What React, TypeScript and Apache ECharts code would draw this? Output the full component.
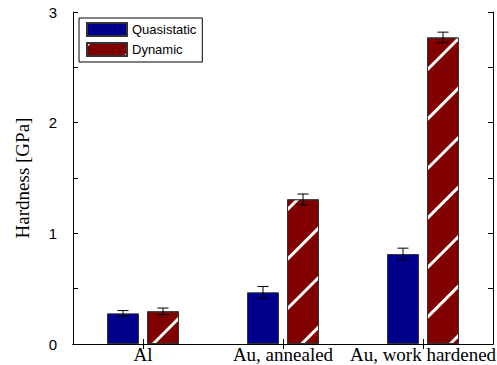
import React, { useEffect, useRef } from "react";
import * as echarts from "echarts";

// Hardness of the tested materials, in GPa
const categories = ["Al", "Au, annealed", "Au, work hardened"];
const quasistatic = [0.277, 0.467, 0.813];
const quasistaticErr = [0.025, 0.053, 0.053];
const dynamic = [0.295, 1.307, 2.77];
const dynamicErr = [0.03, 0.048, 0.048];
const yTicks = [0, 1, 2, 3];

const BAR_WIDTH = 32;
const BAR_GAP = 8;
const SANS = "Liberation Sans";
const SERIF = "Liberation Serif";

function errorBarSeries(values: number[], errs: number[], offset: number) {
  return {
    type: "custom",
    xAxisIndex: 0,
    yAxisIndex: 0,
    z: 10,
    silent: true,
    encode: { x: 0, y: 1 },
    data: values.map((v, i) => [i, v, errs[i]]),
    renderItem: (_params: any, api: any) => {
      const i = api.value(0);
      const v = api.value(1);
      const e = api.value(2);
      const hi = api.coord([i, v + e]);
      const lo = api.coord([i, v - e]);
      const x = hi[0] + offset;
      const cap = 5.5;
      const style = { stroke: "#000", lineWidth: 1, fill: null };
      return {
        type: "group",
        children: [
          { type: "line", shape: { x1: x, y1: hi[1], x2: x, y2: lo[1] }, style },
          { type: "line", shape: { x1: x - cap, y1: hi[1], x2: x + cap, y2: hi[1] }, style },
          { type: "line", shape: { x1: x - cap, y1: lo[1], x2: x + cap, y2: lo[1] }, style },
        ],
      };
    },
  };
}

export default function App() {
  const ref = useRef<HTMLDivElement>(null);

  useEffect(() => {
    if (!ref.current) return;
    const chart = echarts.init(ref.current, null, { renderer: "svg" });
    const half = (BAR_WIDTH + BAR_GAP) / 2;
    const axisLine = { show: true, lineStyle: { color: "#000", width: 1 } };

    chart.setOption({
      animation: false,
      backgroundColor: "#fff",
      grid: {
        left: 73,
        right: 4,
        top: 12,
        bottom: 21,
        containLabel: false,
        outerBoundsMode: "none",
      },
      legend: {
        data: ["Quasistatic", "Dynamic"],
        orient: "vertical",
        left: 79,
        top: 18,
        padding: [4, 6, 5, 7],
        itemWidth: 40,
        itemHeight: 13,
        itemGap: 5,
        icon: "rect",
        borderColor: "#000",
        borderWidth: 1,
        backgroundColor: "#fff",
        textStyle: { fontFamily: SANS, fontSize: 13, color: "#000" },
      },
      xAxis: [
        {
          type: "category",
          data: categories,
          position: "bottom",
          axisLine,
          axisTick: { show: true, inside: true, alignWithLabel: true, length: 5, lineStyle: { color: "#000" } },
          axisLabel: { fontFamily: SERIF, fontSize: 19, lineHeight: 19, color: "#000", margin: 1, interval: 0 },
          splitLine: { show: false },
        },
        {
          type: "category",
          data: categories,
          position: "top",
          axisLine,
          axisTick: { show: true, inside: true, alignWithLabel: true, length: 5, lineStyle: { color: "#000" } },
          axisLabel: { show: false },
          splitLine: { show: false },
        },
      ],
      yAxis: [
        {
          type: "value",
          min: 0,
          max: 3,
          interval: 0.5,
          position: "left",
          name: "Hardness [GPa]",
          nameLocation: "middle",
          nameGap: 41,
          nameTextStyle: { fontFamily: SERIF, fontSize: 19, color: "#000" },
          axisLine,
          axisTick: { show: true, inside: true, length: 5, lineStyle: { color: "#000" } },
          axisLabel: {
            fontFamily: SANS,
            fontSize: 15,
            color: "#000",
            margin: 16,
            padding: [6, 0, 0, 0],
            formatter: (v: number) => (yTicks.includes(v) ? String(v) : ""),
          },
          splitLine: { show: false },
        },
        {
          type: "value",
          min: 0,
          max: 3,
          interval: 0.5,
          position: "right",
          axisLine,
          axisTick: { show: true, inside: true, length: 5, lineStyle: { color: "#000" } },
          axisLabel: { show: false },
          splitLine: { show: false },
        },
      ],
      series: [
        {
          name: "Quasistatic",
          type: "bar",
          xAxisIndex: 0,
          yAxisIndex: 0,
          barWidth: BAR_WIDTH,
          barGap: `${(BAR_GAP / BAR_WIDTH) * 100}%`,
          data: quasistatic,
          itemStyle: { color: "#00008c", borderColor: "#333", borderWidth: 1 },
        },
        {
          name: "Dynamic",
          type: "bar",
          xAxisIndex: 0,
          yAxisIndex: 0,
          barWidth: BAR_WIDTH,
          data: dynamic,
          itemStyle: {
            color: "#800000",
            borderColor: "#333",
            borderWidth: 1,
            decal: {
              symbol: "rect",
              symbolSize: 1,
              color: "#ffffff",
              dashArrayX: [1, 0],
              dashArrayY: [2.5, 31.5],
              rotation: -Math.PI / 4,
            },
          },
        },
        errorBarSeries(quasistatic, quasistaticErr, -half),
        errorBarSeries(dynamic, dynamicErr, half),
      ],
    });

    return () => chart.dispose();
  }, []);

  return (
    <div
      ref={ref}
      style={{ position: "fixed", left: 0, top: 0, width: 497, height: 365 }}
    />
  );
}
